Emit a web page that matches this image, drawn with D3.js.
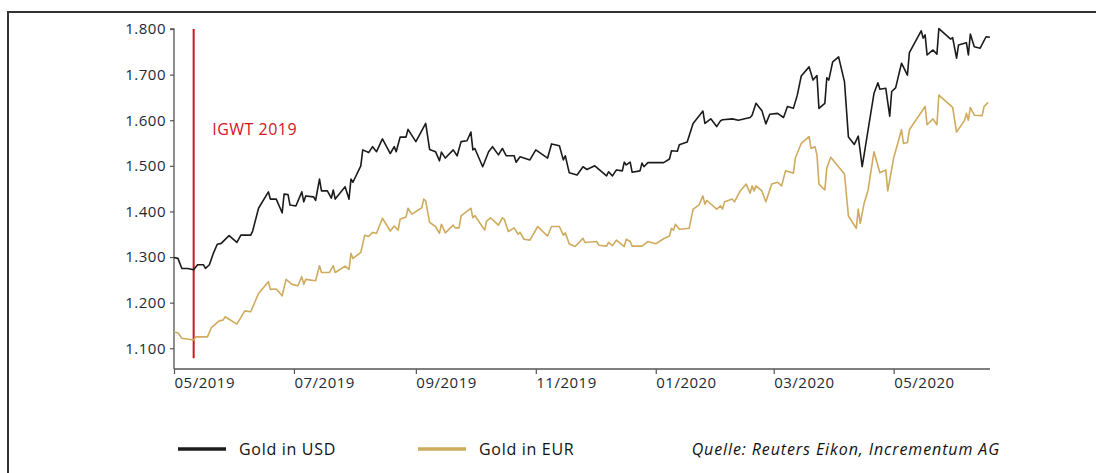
<!DOCTYPE html>
<html><head><meta charset="utf-8">
<script src="https://cdn.jsdelivr.net/npm/d3@7"></script>
<style>
html,body{margin:0;padding:0;background:#fff;}
svg{display:block;font-family:"Open Sans","Noto Sans",sans-serif;}
</style></head><body>
<svg id="c" width="1096" height="473"></svg>
<script>
// ---- data ----
const usdDates = ["2019-05-01","2019-05-03","2019-05-05","2019-05-08","2019-05-11","2019-05-13","2019-05-16","2019-05-17","2019-05-19","2019-05-21","2019-05-23","2019-05-25","2019-05-29","2019-06-02","2019-06-04","2019-06-09","2019-06-10","2019-06-13","2019-06-18","2019-06-19","2019-06-22","2019-06-25","2019-06-26","2019-06-28","2019-06-29","2019-07-02","2019-07-05","2019-07-06","2019-07-07","2019-07-11","2019-07-12","2019-07-14","2019-07-15","2019-07-18","2019-07-20","2019-07-21","2019-07-22","2019-07-27","2019-07-29","2019-07-30","2019-07-31","2019-08-04","2019-08-05","2019-08-08","2019-08-10","2019-08-12","2019-08-15","2019-08-19","2019-08-21","2019-08-22","2019-08-24","2019-08-27","2019-08-28","2019-09-01","2019-09-03","2019-09-06","2019-09-08","2019-09-11","2019-09-13","2019-09-14","2019-09-16","2019-09-20","2019-09-22","2019-09-24","2019-09-27","2019-09-29","2019-09-30","2019-10-01","2019-10-05","2019-10-08","2019-10-10","2019-10-13","2019-10-15","2019-10-17","2019-10-21","2019-10-22","2019-10-24","2019-10-29","2019-11-01","2019-11-07","2019-11-09","2019-11-13","2019-11-15","2019-11-16","2019-11-18","2019-11-22","2019-11-25","2019-11-27","2019-12-01","2019-12-07","2019-12-08","2019-12-10","2019-12-12","2019-12-15","2019-12-16","2019-12-17","2019-12-19","2019-12-20","2019-12-24","2019-12-25","2019-12-26","2019-12-28","2020-01-05","2020-01-08","2020-01-09","2020-01-12","2020-01-13","2020-01-17","2020-01-20","2020-01-25","2020-01-26","2020-01-29","2020-02-01","2020-02-03","2020-02-04","2020-02-09","2020-02-12","2020-02-18","2020-02-19","2020-02-21","2020-02-24","2020-02-26","2020-02-28","2020-03-03","2020-03-06","2020-03-08","2020-03-11","2020-03-13","2020-03-15","2020-03-19","2020-03-21","2020-03-23","2020-03-24","2020-03-27","2020-03-28","2020-03-29","2020-03-31","2020-04-03","2020-04-06","2020-04-08","2020-04-11","2020-04-13","2020-04-15","2020-04-18","2020-04-21","2020-04-23","2020-04-24","2020-04-27","2020-04-29","2020-04-30","2020-05-02","2020-05-05","2020-05-08","2020-05-09","2020-05-15","2020-05-16","2020-05-17","2020-05-18","2020-05-21","2020-05-23","2020-05-24","2020-05-30","2020-05-31","2020-06-02","2020-06-03","2020-06-07","2020-06-08","2020-06-09","2020-06-11","2020-06-14","2020-06-17","2020-06-19"];
const usdValues = [1299,1297,1275,1275,1272,1283,1283,1275,1283,1308,1328,1330,1347,1332,1348,1348,1357,1407,1443,1427,1427,1397,1438,1437,1414,1412,1443,1421,1434,1432,1424,1471,1445,1445,1429,1447,1427,1454,1427,1471,1464,1500,1535,1529,1542,1531,1559,1527,1542,1531,1563,1563,1580,1553,1569,1593,1536,1531,1511,1530,1517,1535,1522,1553,1555,1574,1535,1538,1498,1531,1542,1524,1538,1522,1522,1508,1520,1513,1535,1517,1548,1544,1513,1522,1485,1480,1498,1492,1500,1478,1487,1478,1491,1489,1508,1502,1508,1486,1489,1506,1498,1507,1507,1515,1533,1532,1546,1552,1593,1620,1593,1603,1586,1599,1601,1603,1600,1606,1611,1637,1621,1592,1613,1615,1606,1630,1626,1655,1697,1717,1688,1698,1626,1637,1693,1688,1728,1739,1684,1563,1547,1565,1498,1579,1659,1682,1668,1670,1609,1663,1671,1725,1699,1748,1796,1780,1787,1743,1754,1745,1801,1778,1781,1736,1765,1770,1743,1789,1761,1758,1783,1782];

const eurDates = ["2019-05-01","2019-05-03","2019-05-05","2019-05-11","2019-05-12","2019-05-18","2019-05-20","2019-05-24","2019-05-26","2019-05-27","2019-06-02","2019-06-06","2019-06-09","2019-06-13","2019-06-18","2019-06-19","2019-06-22","2019-06-25","2019-06-27","2019-06-30","2019-07-03","2019-07-05","2019-07-06","2019-07-07","2019-07-12","2019-07-14","2019-07-15","2019-07-19","2019-07-21","2019-07-22","2019-07-27","2019-07-29","2019-07-30","2019-07-31","2019-08-04","2019-08-06","2019-08-08","2019-08-10","2019-08-12","2019-08-15","2019-08-19","2019-08-21","2019-08-23","2019-08-24","2019-08-27","2019-08-28","2019-08-30","2019-09-04","2019-09-05","2019-09-06","2019-09-08","2019-09-11","2019-09-13","2019-09-14","2019-09-16","2019-09-20","2019-09-21","2019-09-23","2019-09-24","2019-09-29","2019-09-30","2019-10-01","2019-10-06","2019-10-07","2019-10-09","2019-10-13","2019-10-15","2019-10-16","2019-10-18","2019-10-21","2019-10-23","2019-10-24","2019-10-26","2019-10-29","2019-11-02","2019-11-07","2019-11-09","2019-11-13","2019-11-15","2019-11-16","2019-11-18","2019-11-21","2019-11-25","2019-11-26","2019-12-02","2019-12-03","2019-12-07","2019-12-08","2019-12-10","2019-12-12","2019-12-16","2019-12-17","2019-12-19","2019-12-20","2019-12-25","2019-12-28","2020-01-01","2020-01-05","2020-01-08","2020-01-09","2020-01-10","2020-01-11","2020-01-13","2020-01-18","2020-01-20","2020-01-23","2020-01-25","2020-01-26","2020-01-27","2020-02-01","2020-02-03","2020-02-04","2020-02-05","2020-02-09","2020-02-10","2020-02-13","2020-02-16","2020-02-18","2020-02-19","2020-02-20","2020-02-21","2020-02-24","2020-02-26","2020-02-29","2020-03-03","2020-03-05","2020-03-07","2020-03-11","2020-03-12","2020-03-15","2020-03-19","2020-03-20","2020-03-22","2020-03-23","2020-03-24","2020-03-27","2020-03-28","2020-03-30","2020-04-06","2020-04-08","2020-04-12","2020-04-13","2020-04-14","2020-04-16","2020-04-18","2020-04-21","2020-04-24","2020-04-27","2020-04-28","2020-05-01","2020-05-05","2020-05-06","2020-05-08","2020-05-09","2020-05-17","2020-05-18","2020-05-21","2020-05-23","2020-05-24","2020-05-31","2020-06-02","2020-06-06","2020-06-07","2020-06-08","2020-06-09","2020-06-11","2020-06-15","2020-06-16","2020-06-18"];
const eurValues = [1135,1134,1122,1118,1125,1125,1145,1160,1162,1169,1153,1182,1180,1220,1246,1229,1230,1215,1251,1240,1237,1257,1240,1251,1248,1281,1266,1266,1281,1266,1280,1273,1308,1297,1310,1348,1345,1354,1352,1385,1357,1368,1359,1383,1388,1407,1394,1408,1427,1423,1376,1367,1352,1372,1353,1370,1364,1364,1390,1407,1386,1391,1359,1379,1386,1370,1386,1383,1356,1364,1350,1354,1339,1337,1367,1346,1367,1367,1348,1353,1329,1323,1341,1332,1334,1326,1324,1332,1325,1337,1323,1339,1334,1324,1324,1334,1329,1340,1346,1363,1359,1372,1361,1363,1405,1414,1434,1416,1424,1405,1412,1405,1421,1427,1421,1445,1460,1440,1456,1445,1456,1445,1421,1460,1464,1456,1489,1484,1517,1549,1564,1538,1542,1524,1460,1447,1495,1519,1482,1390,1363,1405,1374,1418,1447,1531,1485,1491,1445,1517,1579,1549,1551,1579,1630,1590,1603,1590,1655,1628,1574,1599,1615,1600,1628,1611,1610,1630,1639];

const yTicks = [1100,1200,1300,1400,1500,1600,1700,1800];
const xTickDates = ["2019-05-01","2019-07-01","2019-09-01","2019-11-01","2020-01-01","2020-03-01","2020-05-01"];
const xTickLabels = ["05/2019","07/2019","09/2019","11/2019","01/2020","03/2020","05/2020"];
const eventDate = "2019-05-11";
const eventLabel = "IGWT 2019";
const seriesNames = ["Gold in USD","Gold in EUR"];
const sourceText = "Quelle: Reuters Eikon, Incrementum AG";

// ---- drawing ----
const parse = d3.timeParse("%Y-%m-%d");
const svg = d3.select("#c");
const colUSD = "#1b1b1b", colEUR = "#cfab5e", colRed = "#d3121f", textCol = "#1d2a36", axisCol = "#555";

// frame
svg.append("path").attr("d","M8,473 V12 H1096").attr("fill","none").attr("stroke","#333").attr("stroke-width",2);

const x = d3.scaleTime().domain([parse("2019-05-01"), parse("2020-06-19")]).range([174, 990]);
const y = d3.scaleLinear().domain([1054.5, 1800]).range([369, 29]);

const de = d3.formatLocale({decimal:",", thousands:".", grouping:[3], currency:["","€"]});

// y axis
const yAxis = d3.axisLeft(y).tickValues(yTicks).tickSize(4).tickPadding(4).tickFormat(d => de.format(",")(d));
const gy = svg.append("g").attr("transform","translate(174,0)").call(yAxis);
gy.select(".domain").attr("stroke",axisCol).attr("stroke-width",1.3).attr("d","M-4,"+y(1800)+"H0V"+y.range()[0]);
gy.selectAll(".tick line").attr("stroke",axisCol).attr("stroke-width",1.2);
gy.selectAll(".tick text").attr("fill",textCol).style("font-size","15px").style("letter-spacing","0.5px")
  .style("font-family",'"Open Sans","Noto Sans",sans-serif');

// x axis
const xAxis = d3.axisBottom(x).tickValues(xTickDates.map(parse)).tickSize(5).tickPadding(3)
  .tickFormat((d,i) => xTickLabels[i]);
const gx = svg.append("g").attr("transform","translate(0,369)").call(xAxis);
gx.select(".domain").attr("stroke",axisCol).attr("stroke-width",1.3).attr("d","M174,0H990");
gx.selectAll(".tick line").attr("stroke",axisCol).attr("stroke-width",1.2);
gx.selectAll(".tick text").attr("fill",textCol).attr("text-anchor","start").attr("dx",0)
  .style("font-size","15px").style("letter-spacing","0.5px")
  .style("font-family",'"Open Sans","Noto Sans",sans-serif');

// event line
const ex = x(parse(eventDate));
svg.append("line").attr("x1",ex).attr("x2",ex).attr("y1",y(1800)).attr("y2",y(1078))
  .attr("stroke",colRed).attr("stroke-width",2);
svg.append("text").attr("x",ex+18.5).attr("y",135).text(eventLabel)
  .attr("fill",colRed).style("font-size","16px").style("letter-spacing","0.5px");

// lines
const line = d3.line().x(d => x(d[0])).y(d => y(d[1]));
const usd = usdDates.map((d,i) => [parse(d), usdValues[i]]);
const eur = eurDates.map((d,i) => [parse(d), eurValues[i]]);
svg.append("path").datum(eur).attr("d",line).attr("fill","none").attr("stroke",colEUR).attr("stroke-width",1.6).attr("stroke-linejoin","round");
svg.append("path").datum(usd).attr("d",line).attr("fill","none").attr("stroke",colUSD).attr("stroke-width",1.6).attr("stroke-linejoin","round");

// legend
const leg = [{name:seriesNames[0], col:colUSD, x:178},{name:seriesNames[1], col:colEUR, x:418}];
leg.forEach(l => {
  svg.append("line").attr("x1",l.x).attr("x2",l.x+48).attr("y1",449).attr("y2",449).attr("stroke",l.col).attr("stroke-width",3.5);
  svg.append("text").attr("x",l.x+61).attr("y",455).text(l.name).attr("fill","#111")
    .style("font-size","16px").style("letter-spacing","0.7px");
});
svg.append("text").attr("x",1000).attr("y",455).attr("text-anchor","end").text(sourceText)
  .attr("fill","#111").style("font-size","16px").style("font-style","italic").style("letter-spacing","0.9px");
</script>
</body></html>
